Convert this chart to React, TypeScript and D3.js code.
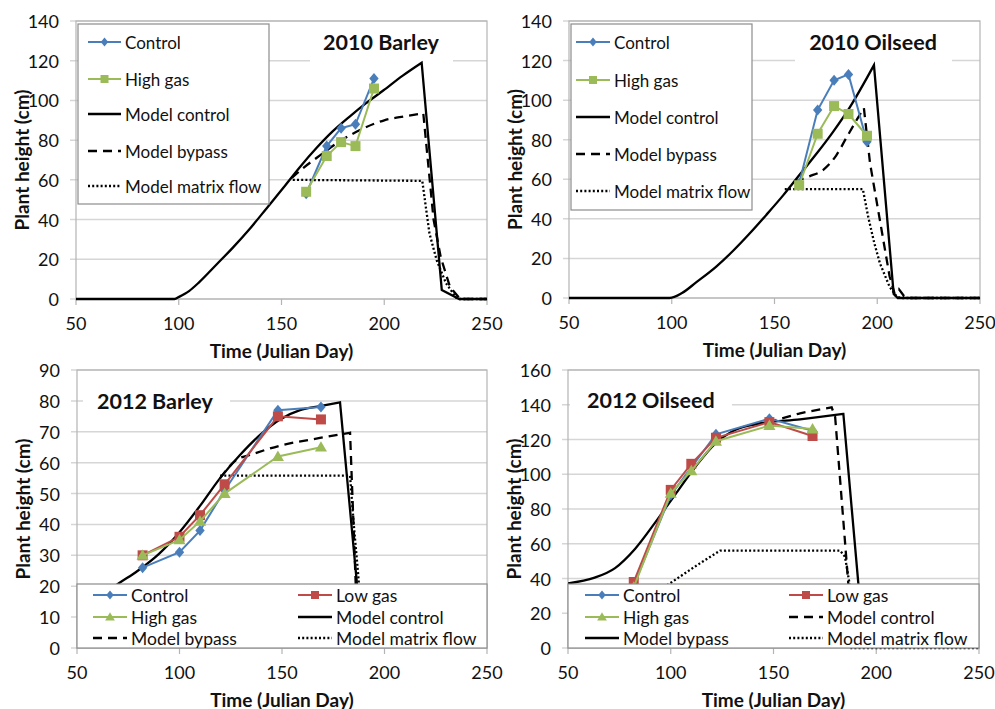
import React from "react";
import * as d3 from "d3";

type Pt = [number, number];

// ---- 2010 Barley ----
const barley10Days = [162, 172, 179, 186, 195];
const barley10Control = [53, 77, 86, 88, 111];
const barley10HighGas = [54, 72, 79, 77, 106];
const barley10ModelControl: Pt[] = [[50, 0], [98, 0], [100, 1], [105, 4], [110, 8.5], [118.5, 17.5], [126, 25.5], [134.7, 35.5], [143, 46], [150.9, 56], [159, 66.5], [167, 76], [175, 84.5], [183.3, 92], [191, 98.5], [199.5, 105], [209, 112.5], [218.2, 119], [228, 4.5], [236.5, 0], [250, 0]];
const barley10ModelBypass: Pt[] = [[155, 61], [160, 65.5], [167, 71], [177, 78.5], [190, 86], [200, 90], [210, 92], [219, 93.5], [224, 40], [227.5, 21], [232, 6], [237, 0], [250, 0]];
const barley10ModelMatrix: Pt[] = [[155.5, 60], [218.5, 59.5], [222, 33], [225.5, 19.6], [230, 8], [235.5, 0], [250, 0]];

// ---- 2010 Oilseed ----
const oil10Days = [162, 171, 179, 186, 195];
const oil10Control = [58, 95, 110, 113, 79];
const oil10HighGas = [57, 83, 97, 93, 82];
const oil10ModelControl: Pt[] = [[50, 0], [99, 0], [105, 2.5], [112, 8], [121.8, 16], [130, 24], [138, 32.7], [146, 42], [154.3, 52], [162, 62], [170.5, 73], [178.5, 84], [186.7, 96.5], [198.4, 117.7], [208, 2], [210, 0], [250, 0]];
const oil10ModelBypass: Pt[] = [[160, 59], [167, 61.5], [174, 65], [180, 72], [185, 81], [190, 90], [193.5, 96], [196.5, 68], [201, 41], [206, 11], [208.5, 2], [210.5, 4.5], [213, 1], [215, 0], [250, 0]];
const oil10ModelMatrix: Pt[] = [[155, 55], [193, 55], [195.6, 41], [198.5, 28], [201.3, 17.5], [206, 5.7], [209.5, 0.7], [212, 0], [250, 0]];

// ---- 2012 Barley ----
const barley12Days = [82, 100, 110, 122, 148, 169];
const barley12Control = [26, 31, 38, 51, 77, 78];
const barley12LowGas = [30, 36, 43, 53, 75, 74];
const barley12HighGas = [30, 35, 41, 50, 62, 65];
const barley12ModelControl: Pt[] = [[50, 12], [60, 15], [68.5, 20], [79, 24.7], [90, 30.5], [100, 37.5], [110, 46], [119.8, 55], [129.5, 62.5], [139.3, 69], [149, 74], [158.8, 77], [168.5, 78.3], [178.3, 79.5], [186.4, 22], [188.5, 0]];
const barley12ModelBypass: Pt[] = [[119.8, 55], [128, 61], [134.4, 62.5], [149, 65.5], [168.5, 68], [183.2, 69.7], [186, 20], [188, 0]];
const barley12ModelMatrix: Pt[] = [[119.8, 55.8], [183.2, 55.8], [185, 40], [187, 25], [190, 0]];

// ---- 2012 Oilseed ----
const oil12Days = [82, 100, 110, 122, 148, 169];
const oil12Control = [36, 88, 104, 123, 132, 125];
const oil12LowGas = [38, 91, 106, 121, 130, 122];
const oil12HighGas = [35, 89, 102, 119, 128, 126];
const oil12ModelControl: Pt[] = [[140, 128.5], [148, 130.3], [162.9, 135], [178.3, 138.5], [180, 133], [186.4, 37], [187, 0]];
const oil12ModelBypass: Pt[] = [[50, 37.2], [63, 40.5], [72.9, 46], [82.6, 57], [92.3, 72], [102, 88], [111.8, 104], [121.5, 117.5], [131.3, 125.5], [143.4, 129.3], [162.9, 131.6], [184, 134.7], [191.3, 37], [192, 0]];
const oil12ModelMatrix: Pt[] = [[88, 28], [99.6, 37.2], [114.2, 48.7], [124, 56], [182.4, 56], [184.8, 52.5], [187, 37], [188, 0], [250, 0]];

const xTicks = [50, 100, 150, 200, 250];

const BLUE = "#4a7ebb";
const GREEN = "#9bbb59";
const RED = "#be4b48";
const FONT = "Lato, 'Open Sans', sans-serif";
const GRID = "#d6d6d6";
const FRAME = "#b4b4b4";
const INK = "#111";

const DASH = "9,6";
const DOT = "2,2.2";

type Marker = "diamond" | "square" | "triangle";

type Series =
  | { kind: "data"; label: string; days: number[]; values: number[]; color: string; marker: Marker }
  | { kind: "model"; label: string; pts: Pt[]; dash?: string };

const markerPath = (m: Marker, s: number) => {
  if (m === "diamond") return `M0,${-s}L${s * 0.85},0L0,${s}L${-s * 0.85},0Z`;
  if (m === "square") return `M${-s},${-s}H${s}V${s}H${-s}Z`;
  return `M0,${-s * 1.1}L${s * 1.1},${s * 0.8}L${-s * 1.1},${s * 0.8}Z`;
};

const markerSize = (m: Marker) => (m === "diamond" ? 5.5 : m === "square" ? 5 : 5.5);

type PanelProps = {
  id: string;
  box: { x0: number; x1: number; y0: number; y1: number };
  yMax: number;
  yStep: number;
  title: string;
  titlePos: { x: number; y: number; anchor: "middle" | "start" };
  titleBg: { x: number; y: number; w: number; h: number };
  series: Series[];
  legend: { box: { x: number; y: number; w: number; h: number }; items: { idx: number; x: number; y: number }[]; len: number; font: number };
};

const Panel = ({ id, box, yMax, yStep, title, titlePos, titleBg, series, legend }: PanelProps) => {
  const x = d3.scaleLinear().domain([50, 250]).range([box.x0, box.x1]);
  const y = d3.scaleLinear().domain([0, yMax]).range([box.y1, box.y0]);
  const yTicks = d3.range(0, yMax + 0.001, yStep);
  const line = d3.line<Pt>().x((d) => x(d[0])).y((d) => y(d[1]));
  const smooth = d3.line<Pt>().x((d) => x(d[0])).y((d) => y(d[1])).curve(d3.curveMonotoneX);
  const w = box.x1 - box.x0;
  const h = box.y1 - box.y0;

  // smooth growth up to the peak, then straight drop-off
  const modelPath = (pts: Pt[]) => {
    const peak = d3.maxIndex(pts, (d) => d[1]);
    const head = smooth(pts.slice(0, peak + 1)) || "";
    const tail = pts.slice(peak + 1).map((p) => `L${x(p[0])},${y(p[1])}`).join("");
    return head + tail;
  };

  const drawLegendSample = (s: Series, lx: number, ly: number, len: number) => {
    if (s.kind === "data") {
      const m = s.marker;
      return (
        <g>
          <line x1={lx} x2={lx + len} y1={ly} y2={ly} stroke={s.color} strokeWidth={2} />
          <path d={markerPath(m, markerSize(m) * 0.8)} transform={`translate(${lx + len / 2},${ly})`} fill={s.color} />
        </g>
      );
    }
    return <line x1={lx} x2={lx + len} y1={ly} y2={ly} stroke="#000" strokeWidth={2.3} strokeDasharray={s.dash} />;
  };

  return (
    <g fontFamily={FONT}>
      <defs>
        <clipPath id={`clip-${id}`}>
          <rect x={box.x0} y={box.y0 - 2} width={w} height={h + 4} />
        </clipPath>
      </defs>
      {/* grid */}
      {yTicks.map((t) => (
        <g key={t}>
          <line x1={box.x0 - 6} x2={box.x1} y1={y(t)} y2={y(t)} stroke={GRID} strokeWidth={1.5} />
          <text x={box.x0 - 17} y={y(t)} textAnchor="end" dominantBaseline="central" fontSize={18} fill={INK}>
            {t}
          </text>
        </g>
      ))}
      {xTicks.map((t) => (
        <g key={t}>
          <line x1={x(t)} x2={x(t)} y1={box.y1} y2={box.y1 + 6} stroke={FRAME} strokeWidth={1.2} />
          <text x={x(t)} y={box.y1 + 24} textAnchor="middle" dominantBaseline="central" fontSize={18} fill={INK}>
            {t}
          </text>
        </g>
      ))}
      <rect x={box.x0} y={box.y0} width={w} height={h} fill="none" stroke={FRAME} strokeWidth={1.2} />
      {/* title background */}
      <rect x={titleBg.x} y={titleBg.y} width={titleBg.w} height={titleBg.h} fill="#fff" />
      <text x={titlePos.x} y={titlePos.y} textAnchor={titlePos.anchor} dominantBaseline="central" fontSize={21.5} fontWeight={700} fill={INK}>
        {title}
      </text>
      {/* series */}
      <g clipPath={`url(#clip-${id})`}>
        {series.map((s, i) =>
          s.kind === "model" ? (
            <path key={i} d={modelPath(s.pts)} fill="none" stroke="#000" strokeWidth={2.3} strokeDasharray={s.dash} strokeLinejoin="miter" />
          ) : null
        )}
        {series.map((s, i) => {
          if (s.kind !== "data") return null;
          const pts: Pt[] = s.days.map((d, k) => [d, s.values[k]]);
          return (
            <g key={i}>
              <path d={line(pts) || ""} fill="none" stroke={s.color} strokeWidth={2} />
              {pts.map((p, k) => (
                <path key={k} d={markerPath(s.marker, markerSize(s.marker))} transform={`translate(${x(p[0])},${y(p[1])})`} fill={s.color} />
              ))}
            </g>
          );
        })}
      </g>
      {/* legend */}
      <rect x={legend.box.x} y={legend.box.y} width={legend.box.w} height={legend.box.h} fill="#fff" stroke="#8c8c8c" strokeWidth={1.2} />
      {legend.items.map((it, k) => (
        <g key={k}>
          {drawLegendSample(series[it.idx], it.x, it.y, legend.len)}
          <text x={it.x + legend.len + 4} y={it.y} dominantBaseline="central" fontSize={legend.font} fill={INK}>
            {series[it.idx].label}
          </text>
        </g>
      ))}
      {/* axis titles */}
      <text x={(box.x0 + box.x1) / 2} y={box.y1 + 51} textAnchor="middle" dominantBaseline="central" fontSize={19} fontWeight={700} fill={INK}>
        Time (Julian Day)
      </text>
      <text
        transform={`translate(${box.x0 - 55},${(box.y0 + box.y1) / 2}) rotate(-90)`}
        textAnchor="middle"
        dominantBaseline="central"
        fontSize={19}
        fontWeight={700}
        fill={INK}
      >
        Plant height (cm)
      </text>
    </g>
  );
};

export default function App() {
  const p1: Series[] = [
    { kind: "data", label: "Control", days: barley10Days, values: barley10Control, color: BLUE, marker: "diamond" },
    { kind: "data", label: "High gas", days: barley10Days, values: barley10HighGas, color: GREEN, marker: "square" },
    { kind: "model", label: "Model control", pts: barley10ModelControl },
    { kind: "model", label: "Model bypass", pts: barley10ModelBypass, dash: DASH },
    { kind: "model", label: "Model matrix flow", pts: barley10ModelMatrix, dash: DOT },
  ];
  const p2: Series[] = [
    { kind: "data", label: "Control", days: oil10Days, values: oil10Control, color: BLUE, marker: "diamond" },
    { kind: "data", label: "High gas", days: oil10Days, values: oil10HighGas, color: GREEN, marker: "square" },
    { kind: "model", label: "Model control", pts: oil10ModelControl },
    { kind: "model", label: "Model bypass", pts: oil10ModelBypass, dash: DASH },
    { kind: "model", label: "Model matrix flow", pts: oil10ModelMatrix, dash: DOT },
  ];
  const p3: Series[] = [
    { kind: "data", label: "Control", days: barley12Days, values: barley12Control, color: BLUE, marker: "diamond" },
    { kind: "data", label: "Low gas", days: barley12Days, values: barley12LowGas, color: RED, marker: "square" },
    { kind: "data", label: "High gas", days: barley12Days, values: barley12HighGas, color: GREEN, marker: "triangle" },
    { kind: "model", label: "Model control", pts: barley12ModelControl },
    { kind: "model", label: "Model bypass", pts: barley12ModelBypass, dash: DASH },
    { kind: "model", label: "Model matrix flow", pts: barley12ModelMatrix, dash: DOT },
  ];
  const p4: Series[] = [
    { kind: "data", label: "Control", days: oil12Days, values: oil12Control, color: BLUE, marker: "diamond" },
    { kind: "data", label: "Low gas", days: oil12Days, values: oil12LowGas, color: RED, marker: "square" },
    { kind: "data", label: "High gas", days: oil12Days, values: oil12HighGas, color: GREEN, marker: "triangle" },
    { kind: "model", label: "Model control", pts: oil12ModelControl, dash: DASH },
    { kind: "model", label: "Model bypass", pts: oil12ModelBypass },
    { kind: "model", label: "Model matrix flow", pts: oil12ModelMatrix, dash: DOT },
  ];

  const rows5a = [42, 79, 114, 151, 186];
  const rows5b = [42, 80, 117, 154, 191];
  const rows3 = [595, 617, 638];

  return (
    <div style={{ position: "absolute", left: 0, top: 0 }}>
      <svg width={995} height={709} style={{ display: "block", background: "#fff" }}>
        <Panel
          id="a"
          box={{ x0: 76, x1: 487, y0: 21, y1: 299 }}
          yMax={140}
          yStep={20}
          title="2010 Barley"
          titlePos={{ x: 381, y: 42, anchor: "middle" }}
          titleBg={{ x: 310, y: 24, w: 143, h: 40 }}
          series={p1}
          legend={{ box: { x: 78, y: 24, w: 191, h: 180 }, len: 33, font: 17, items: rows5a.map((r, i) => ({ idx: i, x: 88, y: r })) }}
        />
        <Panel
          id="b"
          box={{ x0: 569, x1: 980, y0: 21, y1: 298 }}
          yMax={140}
          yStep={20}
          title="2010 Oilseed"
          titlePos={{ x: 873, y: 42, anchor: "middle" }}
          titleBg={{ x: 795, y: 24, w: 157, h: 40 }}
          series={p2}
          legend={{ box: { x: 571, y: 24, w: 181, h: 186 }, len: 34, font: 17, items: rows5b.map((r, i) => ({ idx: i, x: 576, y: r })) }}
        />
        <Panel
          id="c"
          box={{ x0: 77, x1: 487, y0: 370, y1: 648 }}
          yMax={90}
          yStep={10}
          title="2012 Barley"
          titlePos={{ x: 97, y: 401, anchor: "start" }}
          titleBg={{ x: 83, y: 385, w: 147, h: 32 }}
          series={p3}
          legend={{
            box: { x: 77, y: 584, w: 410, h: 64 },
            len: 34,
            font: 17.5,
            items: [
              { idx: 0, x: 93, y: rows3[0] },
              { idx: 1, x: 298, y: rows3[0] },
              { idx: 2, x: 93, y: rows3[1] },
              { idx: 3, x: 298, y: rows3[1] },
              { idx: 4, x: 93, y: rows3[2] },
              { idx: 5, x: 298, y: rows3[2] },
            ],
          }}
        />
        <Panel
          id="d"
          box={{ x0: 568, x1: 979, y0: 370, y1: 648 }}
          yMax={160}
          yStep={20}
          title="2012 Oilseed"
          titlePos={{ x: 587, y: 400, anchor: "start" }}
          titleBg={{ x: 570, y: 385, w: 162, h: 32 }}
          series={p4}
          legend={{
            box: { x: 568, y: 584, w: 411, h: 64 },
            len: 34,
            font: 17.5,
            items: [
              { idx: 0, x: 585, y: rows3[0] },
              { idx: 1, x: 789, y: rows3[0] },
              { idx: 2, x: 585, y: rows3[1] },
              { idx: 3, x: 789, y: rows3[1] },
              { idx: 4, x: 585, y: rows3[2] },
              { idx: 5, x: 789, y: rows3[2] },
            ],
          }}
        />
      </svg>
    </div>
  );
}
